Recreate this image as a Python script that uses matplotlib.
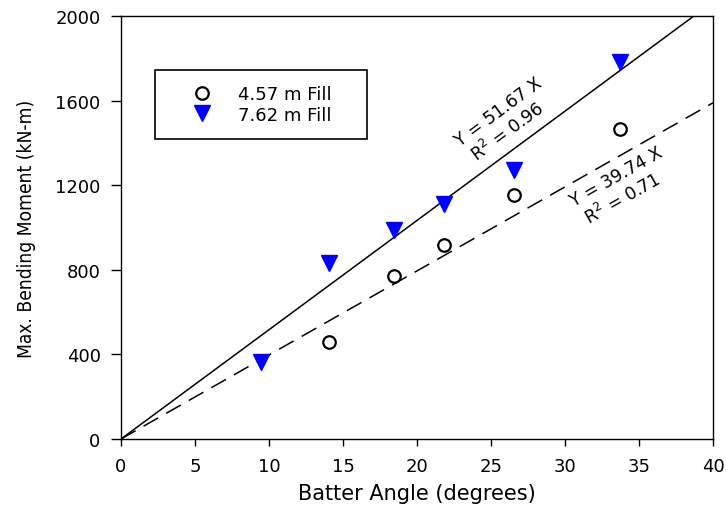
import numpy as np
import matplotlib
matplotlib.use("Agg")
import matplotlib.pyplot as plt
from matplotlib import font_manager as fm

# ---- data ----
angle_457 = [14.04, 18.43, 21.80, 26.57, 33.69]
moment_457 = [457, 770, 915, 1156, 1464]
angle_762 = [9.46, 14.04, 18.43, 21.80, 26.57, 33.69]
moment_762 = [363, 833, 987, 1109, 1274, 1782]
slope_762 = 51.67
slope_457 = 39.74
r2_762 = 0.96
r2_457 = 0.71
labels = ["4.57 m Fill", "7.62 m Fill"]
xticks = [0, 5, 10, 15, 20, 25, 30, 35, 40]
yticks = [0, 400, 800, 1200, 1600, 2000]

plt.rcParams['font.family'] = ['DejaVu Sans']


def narrow_font():
    pref = []
    for f in fm.fontManager.ttflist:
        fn = f.fname.lower()
        if f.style != 'normal':
            continue
        if f.weight not in (400, 'normal', 'regular', 'book'):
            continue
        if 'narrow' in fn or 'condensed' in fn or f.stretch in ('condensed', 'semi-condensed'):
            rank = 0 if 'liberationsansnarrow' in fn.replace('-', '').replace('_', '') else 1
            pref.append((rank, f.fname))
    if pref:
        pref.sort()
        return fm.FontProperties(fname=pref[0][1])
    return fm.FontProperties(family='Liberation Sans')


fig = plt.figure(figsize=(7.26, 5.06), dpi=100)
ax = fig.add_axes([121/726, 1-440/506, (713-121)/726, (440-17)/506])

xfit = np.array([0, 40])
ax.plot(xfit, slope_762*xfit, color='black', lw=1.1, zorder=2)
ax.plot(xfit, slope_457*xfit, color='black', lw=1.1, dashes=(11, 6), zorder=2)

ax.plot(angle_457, moment_457, linestyle='none', marker='o', markersize=9,
        markerfacecolor='none', markeredgecolor='black', markeredgewidth=1.6,
        label=labels[0], zorder=3)
ax.plot(angle_762, moment_762, linestyle='none', marker='v', markersize=11.5,
        markerfacecolor='#0000ff', markeredgecolor='#0000ff',
        label=labels[1], zorder=3)

ax.set_xlim(0, 40)
ax.set_ylim(0, 2000)
ax.set_xticks(xticks)
ax.set_yticks(yticks)
ax.tick_params(axis='x', direction='out', length=5, width=1, labelsize=13, pad=8)
ax.tick_params(axis='y', direction='out', length=7.2, width=1, labelsize=13, pad=7.5)
for s in ax.spines.values():
    s.set_linewidth(1.0)

ax.set_xlabel("Batter Angle (degrees)", fontsize=15)
ax.xaxis.set_label_coords(0.5, (440-484)/423)

fp = narrow_font()
fp.set_size(13)
ax.set_ylabel("Max. Bending Moment (kN-m)", fontproperties=fp)
ax.yaxis.set_label_coords((36-121)/592, 0.5)

rot1 = np.degrees(np.arctan(slope_762))
rot2 = np.degrees(np.arctan(slope_457))
kw = dict(ha='center', va='center', rotation_mode='anchor',
          transform_rotates_text=True, fontsize=12.5)
ax.text(25.5, 1550, f"Y = {slope_762:.2f} X", rotation=rot1, **kw)
ax.text(26.1, 1456, f"R$^2$ = {r2_762:.2f}", rotation=rot1, **kw)
ax.text(33.5, 1243, f"Y = {slope_457:.2f} X", rotation=rot2, **kw)
ax.text(33.9, 1140, f"R$^2$ = {r2_457:.2f}", rotation=rot2, **kw)

leg = ax.legend(loc='upper left',
                bbox_to_anchor=((155-121)/592, (440-139.3)/423,
                                (366.7-155)/592, 68.6/423),
                mode='expand', fontsize=13, frameon=True, fancybox=False,
                edgecolor='black', framealpha=1, borderpad=0.845,
                labelspacing=0.15, handlelength=3.48, handletextpad=0.25,
                borderaxespad=0)
leg.get_frame().set_linewidth(1.2)

# scale the y label so its length is close to the reference's
fig.canvas.draw()
bb = ax.yaxis.label.get_window_extent()
if bb.height > 0:
    fp2 = fp.copy()
    fp2.set_size(13 * 258.0 / bb.height)
    ax.yaxis.label.set_fontproperties(fp2)

fig.savefig("out.png", dpi=100, facecolor='white')
